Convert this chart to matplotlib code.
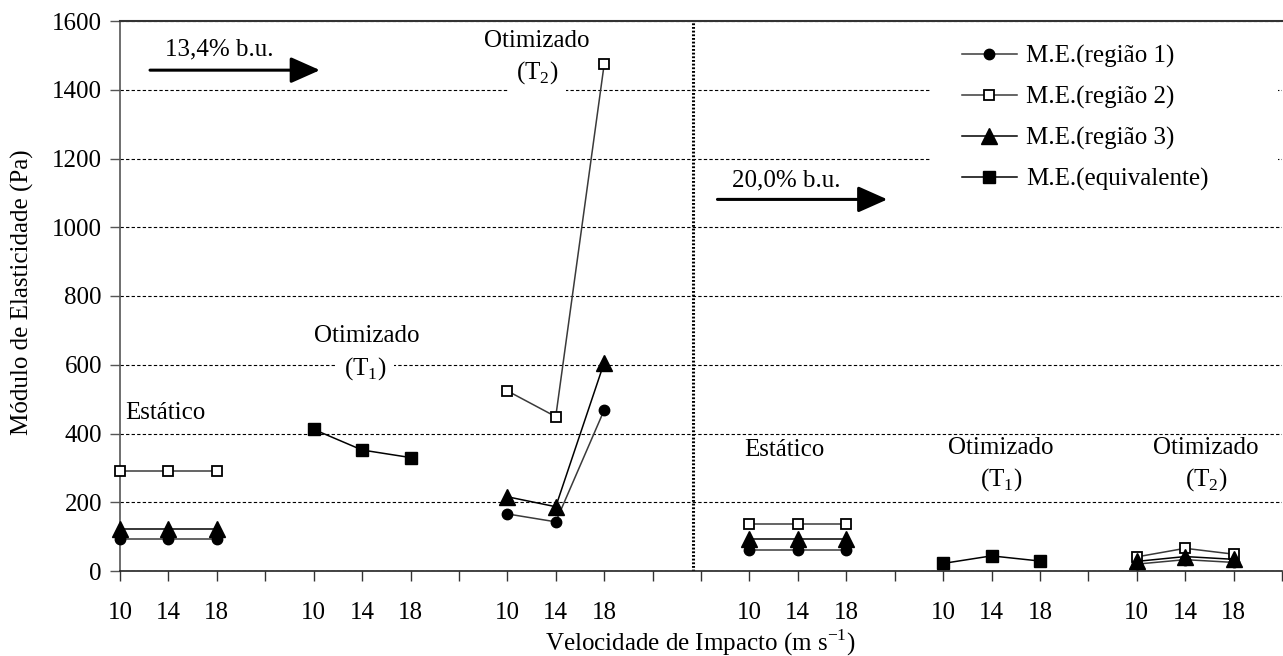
import numpy as np
import matplotlib
matplotlib.use("Agg")
import matplotlib.pyplot as plt
from matplotlib.lines import Line2D
from matplotlib.patches import Rectangle

plt.rcParams['font.family'] = ['Liberation Serif', 'DejaVu Serif']
plt.rcParams['mathtext.fontset'] = 'custom'
plt.rcParams['mathtext.rm'] = 'Liberation Serif'

# ---------------- data ----------------
speeds = ['10', '14', '18']
groups = ['Estático 13,4', 'Otimizado T1 13,4', 'Otimizado T2 13,4',
          'Estático 20,0', 'Otimizado T1 20,0', 'Otimizado T2 20,0']
# category slot where each group starts on the category axis (gaps between groups)
group_start = [0, 4, 8, 13, 17, 21]
n_slots = 24

me_reg1 = {0: [94, 94, 94], 2: [166, 143, 468], 3: [61, 61, 61], 5: [20, 33, 25]}
me_reg2 = {0: [291, 291, 291], 2: [524, 449, 1474], 3: [136, 136, 136], 5: [41, 66, 49]}
me_reg3 = {0: [121, 121, 121], 2: [216, 187, 606], 3: [92, 92, 92], 5: [28, 42, 34]}
me_equiv = {1: [412, 352, 330], 4: [22, 44, 29]}

yticks = [0, 200, 400, 600, 800, 1000, 1200, 1400, 1600]

FS = 18
W, H = 1283, 656
fig = plt.figure(figsize=(W / 100, H / 100), dpi=100)
ax = fig.add_axes([120 / W, 1 - 571 / H, (1282 - 120) / W, (571 - 21) / H])

series = [
    ('M.E.(região 1)', me_reg1, dict(marker='o', ms=7.5, mfc='black', mec='black', color='#3a3a3a')),
    ('M.E.(região 2)', me_reg2, dict(marker='s', ms=6.5, mfc='white', mec='black', mew=1.3, color='#3a3a3a')),
    ('M.E.(região 3)', me_reg3, dict(marker='^', ms=11.5, mfc='black', mec='black', color='black')),
    ('M.E.(equivalente)', me_equiv, dict(marker='s', ms=8.5, mfc='black', mec='black', color='black')),
]

handles = []
for label, data, st in series:
    for g, vals in data.items():
        xs = [group_start[g] + i for i in range(len(speeds))]
        ax.plot(xs, vals, lw=1.1, zorder=3, clip_on=False, **st)
    handles.append(Line2D([], [], lw=1.1, label=label, **st))

# axes styling
ax.set_xlim(0, n_slots)
ax.set_ylim(0, 1600)
ax.set_yticks(yticks)
ax.set_yticklabels([str(v) for v in yticks], fontsize=FS)
ticklabels = [''] * (n_slots + 1)
for gs in group_start:
    for i, s in enumerate(speeds):
        ticklabels[gs + i] = s
ax.set_xticks(range(n_slots + 1))
ax.set_xticklabels(ticklabels, fontsize=FS)
ax.tick_params(axis='x', direction='out', length=7, width=1, pad=15, colors='#333333', labelcolor='black')
ax.tick_params(axis='y', direction='out', length=7, width=1, pad=6, colors='#555555', labelcolor='black')
ax.spines['right'].set_visible(False)
ax.spines['top'].set_color('#333333')
ax.spines['top'].set_linewidth(1.5)
ax.spines['left'].set_color('#555555')
ax.spines['left'].set_linewidth(1.2)
ax.spines['bottom'].set_color('#222222')
ax.spines['bottom'].set_linewidth(1.2)
ax.grid(axis='y', color='black', lw=0.8, ls=(0, (3, 2)), zorder=1)
ax.set_axisbelow(True)

# separator between moisture contents
ax.axvline(11.83, color='black', lw=2.2, ls=(0, (0.6, 0.6)), zorder=2)

# group labels
bb = dict(boxstyle='square,pad=0.3', fc='white', ec='none')
def lab(x, y, s, box=False):
    ax.text(x, y, s, fontsize=FS, ha='center', va='center', zorder=2.5,
            bbox=bb if box else None)

lab(0.93, 459, 'Estático')
lab(5.1, 683, 'Otimizado')
lab(5.06, 590, '(T$_\\mathregular{1}$)', box=True)
lab(8.6, 1542, 'Otimizado')
lab(8.62, 1449, '(T$_\\mathregular{2}$)', box=True)
lab(13.73, 352, 'Estático')
lab(18.2, 358, 'Otimizado')
lab(18.2, 265, '(T$_\\mathregular{1}$)')
lab(22.43, 358, 'Otimizado')
lab(22.43, 265, '(T$_\\mathregular{2}$)')

# moisture arrows
ax.text(0.93, 1516, '13,4% b.u.', fontsize=FS, ha='left', va='center')
ax.annotate('', xy=(4.13, 1457), xytext=(0.62, 1457),
            arrowprops=dict(arrowstyle='-|>,head_length=0.9,head_width=0.4',
                            mutation_scale=20, lw=2.2, color='black', shrinkA=0, shrinkB=0))
ax.text(12.63, 1135, '20,0% b.u.', fontsize=FS, ha='left', va='center')
ax.annotate('', xy=(15.85, 1081), xytext=(12.34, 1081),
            arrowprops=dict(arrowstyle='-|>,head_length=0.9,head_width=0.4',
                            mutation_scale=20, lw=2.2, color='black', shrinkA=0, shrinkB=0))

# white legend area hiding gridlines
ax.add_patch(Rectangle((930 / W, 1 - 196 / H), (1278 - 930) / W, (196 - 28) / H,
                       transform=fig.transFigure, fc='white', ec='none', zorder=1.5))
leg = ax.legend(handles=handles, loc='upper left', bbox_to_anchor=(962 / W, 1 - 45 / H),
                bbox_transform=fig.transFigure, frameon=False, borderpad=0, borderaxespad=0,
                handlelength=2.2, handletextpad=0.35, labelspacing=0.72, fontsize=FS)
leg.set_zorder(5)

fig.text(700 / W, 1 - 643 / H, 'Velocidade de Impacto (m s$^\\mathregular{-1}$)', fontsize=FS,
         ha='center', va='center')
fig.text(22 / W, 1 - 292 / H, 'Módulo de Elasticidade (Pa)', fontsize=FS, rotation=90,
         ha='center', va='center')

fig.savefig('out.png', dpi=100)
